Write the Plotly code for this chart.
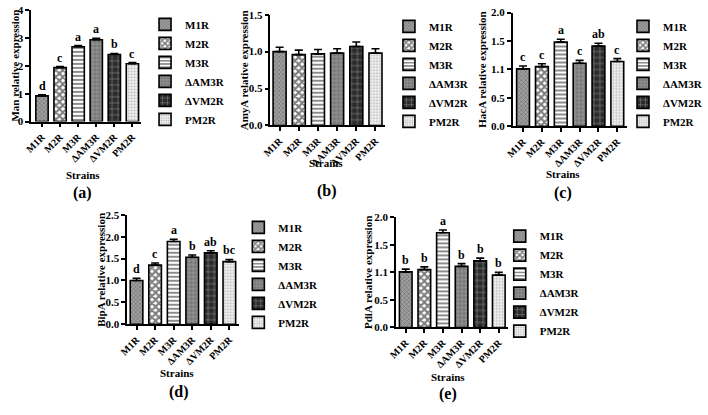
import plotly.graph_objects as go

W, H = 708, 415
FONT = "Liberation Serif"

strains = ["M1R", "M2R", "M3R", "ΔAM3R", "ΔVM2R", "PM2R"]

man = [0.92, 1.93, 2.68, 2.93, 2.40, 2.07]
man_err = [0.04, 0.04, 0.04, 0.05, 0.04, 0.04]
man_sig = ["d", "c", "a", "a", "b", "c"]

amy = [1.00, 0.96, 0.97, 0.98, 1.07, 0.98]
amy_err = [0.06, 0.06, 0.06, 0.06, 0.06, 0.06]
amy_sig = ["", "", "", "", "", ""]

hac = [1.01, 1.05, 1.48, 1.11, 1.41, 1.14]
hac_err = [0.05, 0.05, 0.05, 0.05, 0.05, 0.05]
hac_sig = ["c", "c", "a", "c", "ab", "c"]

bip = [1.00, 1.35, 1.89, 1.53, 1.63, 1.43]
bip_err = [0.05, 0.05, 0.05, 0.05, 0.05, 0.05]
bip_sig = ["d", "c", "a", "b", "ab", "bc"]

pdi = [1.01, 1.05, 1.72, 1.11, 1.21, 0.95]
pdi_err = [0.05, 0.05, 0.05, 0.05, 0.05, 0.05]
pdi_sig = ["b", "b", "a", "b", "b", "b"]

# pattern styles per strain
styles = [
    dict(color="#a0a0a0", pattern=dict(shape="x", fgcolor="#3a3a3a", size=3, solidity=0.35)),
    dict(color="white", pattern=dict(shape="x", fgcolor="black", size=5, solidity=0.65)),
    dict(color="white", pattern=dict(shape="-", fgcolor="black", size=4, solidity=0.45)),
    dict(color="#767676", pattern=dict(shape="+", fgcolor="#e6e6e6", size=4, solidity=0.25)),
    dict(color="#2a2a2a", pattern=dict(shape="+", fgcolor="#d8d8d8", size=6, solidity=0.22)),
    dict(color="#f4f4f4", pattern=dict(shape=".", fgcolor="#808080", size=3, solidity=0.4)),
]

panels = [
    dict(v=man, e=man_err, s=man_sig, yt="Man relative expression",
         tv=[0, 1, 2, 3, 4], tt=["0", "1", "2", "3", "4"], yr=[0, 4],
         xpx=(22.8, 136.3), ypx=(4, 119), x0=-0.6,
         leg=(140, 4), ytx=6, sxy=(76, 174), lxy=(76, 193), lab="(a)"),
    dict(v=amy, e=amy_err, s=amy_sig, yt="AmyA relative expression",
         tv=[0, 0.5, 1.0, 1.5], tt=["0.0", "0.5", "1.0", "1.5"], yr=[0, 1.5],
         xpx=(269, 387), ypx=(9, 123), x0=-0.48,
         leg=(391, 6), ytx=242, sxy=(326, 162), lxy=(327, 190), lab="(b)"),
    dict(v=hac, e=hac_err, s=hac_sig, yt="HacA relative expression",
         tv=[0, 0.5, 1.0, 1.5, 2.0], tt=["0.0", "0.5", "1.1", "1.5", "2.0"], yr=[0, 2],
         xpx=(518.5, 635.7), ypx=(6.7, 124), x0=-0.54,
         leg=(632, 6), ytx=487, sxy=(570, 173), lxy=(570, 193), lab="(c)"),
    dict(v=bip, e=bip_err, s=bip_sig, yt="BipA relative expression",
         tv=[0, 0.5, 1.0, 1.5, 2.0, 2.5], tt=["0.0", "0.5", "1.0", "1.5", "2.0", "2.5"], yr=[0, 2.5],
         xpx=(121.7, 236.3), ypx=(215, 327.7), x0=-0.5,
         leg=(236, 213), ytx=94, sxy=(173, 378), lxy=(175, 398), lab="(d)"),
    dict(v=pdi, e=pdi_err, s=pdi_sig, yt="PdiA relative expression",
         tv=[0, 0.5, 1.0, 1.5, 2.0], tt=["0.0", "0.5", "1.1", "1.5", "2.0"], yr=[0, 2],
         xpx=(398.3, 513.6), ypx=(217.7, 331), x0=-0.52,
         leg=(505, 222), ytx=370, sxy=(452, 382), lxy=(452, 400), lab="(e)"),
]


def px_x(p):
    return p / W


def px_y(p):
    return 1 - p / H


fig = go.Figure()
annotations = []
layout = {}
bold = dict(family=FONT, size=11, color="black", weight="bold")
xbold = dict(family=FONT, size=10, color="black", weight="bold")

for k, p in enumerate(panels):
    n = k + 1
    xa = "x" if n == 1 else f"x{n}"
    ya = "y" if n == 1 else f"y{n}"
    lg = "legend" if n == 1 else f"legend{n}"
    for i, name in enumerate(strains):
        st = styles[i]
        fig.add_trace(go.Bar(
            x=[name], y=[p["v"][i]], name=name,
            xaxis=xa, yaxis=ya, legend=lg, width=0.68,
            marker=dict(color=st["color"], pattern=st["pattern"],
                        line=dict(color="black", width=1.6)),
            error_y=dict(type="data", symmetric=False, array=[p["e"][i]], arrayminus=[0],
                         color="black", thickness=1.6, width=4),
            hoverinfo="x+y",
        ))
        if p["s"][i]:
            annotations.append(dict(
                x=name, y=p["v"][i] + p["e"][i], xref=xa, yref=ya,
                text=p["s"][i], showarrow=False, yanchor="bottom", yshift=0,
                font=dict(family=FONT, size=12, color="black", weight="bold")))
    axcommon = dict(showline=True, linecolor="black", linewidth=1.6, ticks="outside",
                    ticklen=4, tickwidth=1.6, tickcolor="black", showgrid=False,
                    zeroline=False)
    layout["xaxis" if n == 1 else f"xaxis{n}"] = dict(
        axcommon, type="category", categoryorder="array", categoryarray=strains,
        range=[p["x0"], 5.5], domain=[px_x(p["xpx"][0]), px_x(p["xpx"][1])],
        anchor=ya, tickangle=-45, tickfont=xbold)
    layout["yaxis" if n == 1 else f"yaxis{n}"] = dict(
        axcommon, range=p["yr"], tickvals=p["tv"], ticktext=p["tt"], tickfont=bold,
        domain=[px_y(p["ypx"][1]), px_y(p["ypx"][0])], anchor=xa)
    layout[lg] = dict(x=px_x(p["leg"][0]), y=px_y(p["leg"][1]), xanchor="left", yanchor="top",
                      bgcolor="rgba(0,0,0,0)", font=bold, tracegroupgap=0)
    annotations.append(dict(
        x=px_x(p["ytx"]), y=px_y((p["ypx"][0] + p["ypx"][1]) / 2), xref="paper", yref="paper",
        text=p["yt"], textangle=-90, showarrow=False, xanchor="center", yanchor="middle",
        font=bold))
    annotations.append(dict(
        x=px_x(p["sxy"][0]), y=px_y(p["sxy"][1]), xref="paper", yref="paper",
        text="Strains", showarrow=False, xanchor="center", yanchor="middle", font=bold))
    annotations.append(dict(
        x=px_x(p["lxy"][0]), y=px_y(p["lxy"][1]), xref="paper", yref="paper",
        text=p["lab"], showarrow=False, xanchor="center", yanchor="middle",
        font=dict(family=FONT, size=16, color="black", weight="bold")))

fig.update_layout(
    width=W, height=H, margin=dict(l=0, r=0, t=0, b=0),
    paper_bgcolor="white", plot_bgcolor="white",
    barmode="overlay", showlegend=True, annotations=annotations, **layout,
)

fig.write_html("out.html")
